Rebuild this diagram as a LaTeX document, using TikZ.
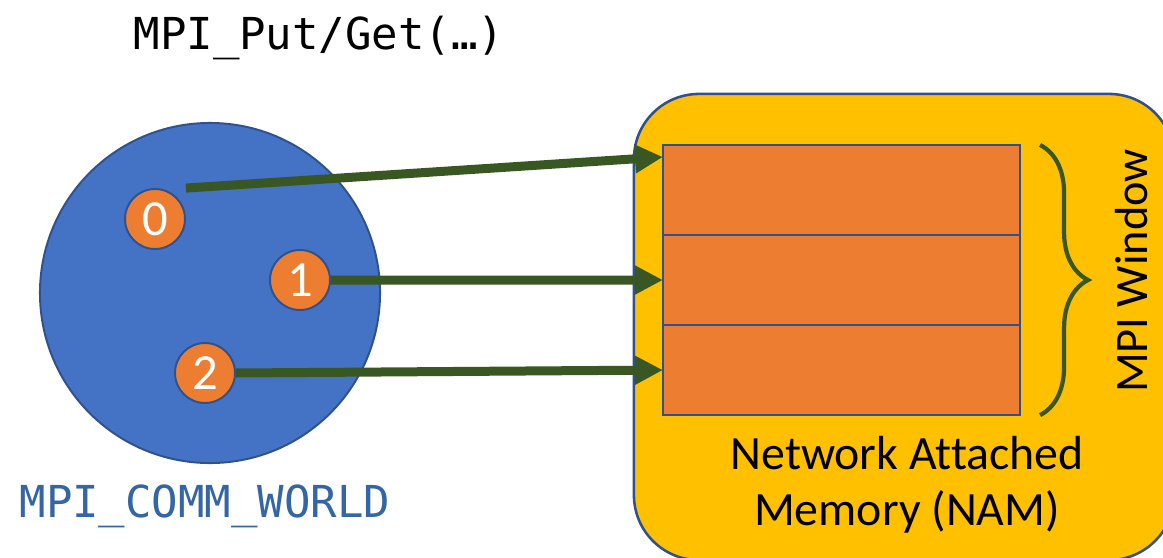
\documentclass[tikz,border=0pt]{standalone}
\usepackage{fontspec}
\setmainfont[Ligatures=CommonOff]{Carlito}
\newfontfamily\codefont{DejaVu Sans Mono}
\usetikzlibrary{arrows.meta, positioning, decorations.pathreplacing}
\definecolor{commblue}{RGB}{68, 114, 196}
\definecolor{edgeblue}{RGB}{47, 82, 143}
\definecolor{namyellow}{RGB}{255, 192, 0}
\definecolor{cellorange}{RGB}{237, 125, 49}
\definecolor{putgreen}{RGB}{56, 87, 35}
\definecolor{labelblue}{RGB}{52, 101, 164}

\begin{document}
\begin{tikzpicture}[x=0.025cm, y=-0.025cm,
        comm/.style={circle, draw=edgeblue, line width=1.4pt, fill=commblue, minimum size=8.5cm, inner sep=0pt},
        rankdot/.style={circle, draw=edgeblue, line width=1.4pt, fill=cellorange, minimum size=1.5cm, inner sep=0pt, text=white, font=\fontsize{36}{36}\selectfont},
        nam/.style={rectangle, rounded corners=1.625cm, draw=edgeblue, line width=1.8pt, fill=namyellow, minimum width=13.5cm, minimum height=11.65cm},
        wincell/.style={rectangle, draw=edgeblue, line width=2pt, fill=cellorange, minimum width=8.925cm, minimum height=2.25cm, outer sep=0pt},
        put/.style={-{Triangle[length=0.7cm, width=0.68cm]}, line width=6.4pt, draw=putgreen},
        winbrace/.style={decorate, decoration={brace, amplitude=1.2cm}, line width=3pt, draw=putgreen},
        code/.style={font=\codefont\fontsize{31.3}{31.3}\selectfont}
    ]
        \clip (0,0) rectangle (1163,558);
        % communicator and its ranks
        \node[comm] (world) at (210,293) {};
        \node[rankdot] (p0) at (155,219) {0};
        \node[rankdot] (p1) at (300,280) {1};
        \node[rankdot] (p2) at (205,373) {2};
        \node[code, text=labelblue] (worldlabel) at (205,506) {MPI\_COMM\_WORLD};
        \node[code] (call) at (319,38) {MPI\_Put/Get(…)};
        % memory and window
        \node[nam] (mem) at (904,327) {};
        \node[wincell] (cellA) at (841.5,190) {};
        \node[wincell, below=0pt of cellA] (cellB) {};
        \node[wincell, below=0pt of cellB] (cellC) {};
        \node[font=\fontsize{34}{40}\selectfont, align=center] (memlabel) at (907,485) {Network Attached\\Memory (NAM)};
        \node[rotate=90, inner sep=0pt, font=\fontsize{33}{33}\selectfont] (winlabel) at (1132,271) {MPI Window};
        \draw[winbrace] ([xshift=0.5cm]cellA.north east) -- ([xshift=0.5cm]cellC.south east);
        % one-sided accesses
        \draw[put] ([shift={(9,-9)}]p0.north east) -- ([yshift=0.825cm]cellA.west);
        \draw[put] (p1.east) -- (cellB.west);
        \draw[put] (p2.east) -- (cellC.west);
    \end{tikzpicture}
\end{document}
